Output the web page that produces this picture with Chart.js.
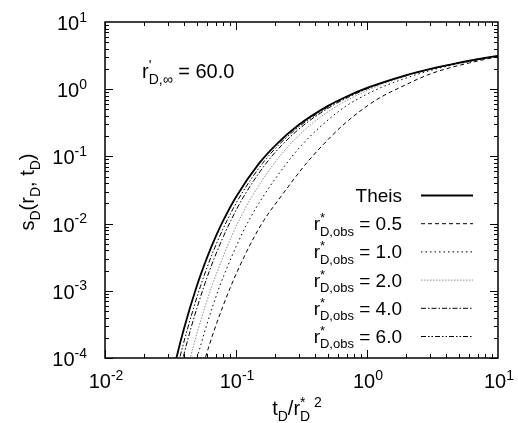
<!DOCTYPE html>
<html>
<head>
<meta charset="utf-8">
<script src="https://cdn.jsdelivr.net/npm/chart.js@4.4.0/dist/chart.umd.min.js"></script>
<style>
  html, body { margin: 0; padding: 0; background: #fff; }
  canvas { display: block; }
</style>
</head>
<body>
<canvas id="c" width="518" height="423"></canvas>
<script>
// drawdown levels shared by every curve (y values)
const sLevels = [2.60e-5, 9.8e-5, 2.70e-4, 1.148e-3, 3.09e-3, 6.38e-3, 1.114e-2, 2.491e-2, 7.86e-2,
                 0.1464, 0.2925, 0.5598, 0.7799, 1.0443, 1.6234, 1.9893, 2.4679, 2.7904, 3.1365];

// time at which each curve reaches the level above (x values)
const tTheis = [0.03, 0.035, 0.04, 0.05, 0.06, 0.07, 0.08, 0.1, 0.15, 0.2, 0.3, 0.5, 0.7, 1, 2, 3, 5, 7, 10];
const tObs05 = [0.0476, 0.0581, 0.0687, 0.0910, 0.1143, 0.138, 0.163, 0.219, 0.344, 0.458, 0.656, 0.998,
                1.303, 1.758, 2.89, 3.95, 6.08, 8.04, 10.72];
const tObs10 = [0.0424, 0.0504, 0.0585, 0.0748, 0.0919, 0.1084, 0.1254, 0.1603, 0.2433, 0.317, 0.454, 0.690,
                0.923, 1.259, 2.322, 3.327, 5.36, 7.33, 10.23];
const tObs20 = [0.0378, 0.0446, 0.0515, 0.0652, 0.0791, 0.0923, 0.1054, 0.1318, 0.1955, 0.255, 0.369, 0.588,
                0.804, 1.109, 2.118, 3.105, 5.115, 7.08, 10];
const tObs40 = [0.0333, 0.0393, 0.0451, 0.0568, 0.0684, 0.0800, 0.0914, 0.1140, 0.1695, 0.2234, 0.329, 0.536,
                0.741, 1.042, 2.046, 3.042, 5.035, 7, 10];
const tObs60 = [0.0316, 0.0371, 0.0426, 0.0534, 0.0641, 0.0748, 0.0855, 0.1067, 0.1593, 0.2108, 0.3135, 0.5165,
                0.718, 1.019, 2.018, 3.015, 5, 7, 10];

const obsLabels = ['0.5', '1.0', '2.0', '4.0', '6.0'];
const xMajor = [0.01, 0.1, 1, 10];
const yMajor = [1e-4, 1e-3, 1e-2, 1e-1, 1, 10];

const FONT = '"Liberation Sans", Arial, sans-serif';

function pts(ts) {
  return ts.map((t, i) => ({ x: t, y: sLevels[i] }));
}

// text with sub/superscripts: parts = [{t}, {sup}, {sub}, {sup, sub}]
function richWidth(ctx, parts, size) {
  const small = Math.round(size * 0.68);
  let w = 0;
  parts.forEach(p => {
    if (p.t !== undefined) {
      ctx.font = size + 'px ' + FONT;
      w += ctx.measureText(p.t).width;
    } else {
      ctx.font = small + 'px ' + FONT;
      w += Math.max(p.sup ? ctx.measureText(p.sup).width : 0, p.sub ? ctx.measureText(p.sub).width : 0);
    }
  });
  return w;
}

function drawRich(ctx, parts, x, y, size, align) {
  const small = Math.round(size * 0.68);
  const total = richWidth(ctx, parts, size);
  let cx = align === 'right' ? x - total : align === 'center' ? x - total / 2 : x;
  ctx.textAlign = 'left';
  ctx.textBaseline = 'alphabetic';
  ctx.fillStyle = '#000';
  parts.forEach(p => {
    if (p.t !== undefined) {
      ctx.font = size + 'px ' + FONT;
      ctx.fillText(p.t, cx, y);
      cx += ctx.measureText(p.t).width;
    } else {
      ctx.font = small + 'px ' + FONT;
      let w = 0;
      if (p.sup) { ctx.fillText(p.sup, cx, y - size * 0.42); w = ctx.measureText(p.sup).width; }
      if (p.sub) { ctx.fillText(p.sub, cx, y + size * 0.28); w = Math.max(w, ctx.measureText(p.sub).width); }
      cx += w;
    }
  });
}

function expLabel(v) {
  return [{ t: '10' }, { sup: String(Math.round(Math.log10(v))) }];
}

const decor = {
  id: 'decor',
  afterDatasetsDraw(chart) {
    const ctx = chart.ctx;
    const a = chart.chartArea;
    const xs = chart.scales.x, ys = chart.scales.y;
    ctx.save();
    ctx.strokeStyle = '#000';
    ctx.lineWidth = 1;

    // ticks on all four sides, pointing inward
    ctx.beginPath();
    for (let e = -2; e < 1; e++) {
      for (let k = 1; k < 10; k++) {
        const v = k * Math.pow(10, e);
        const px = Math.round(xs.getPixelForValue(v)) + 0.5;
        const len = k === 1 ? 8 : 4;
        ctx.moveTo(px, a.bottom); ctx.lineTo(px, a.bottom - len);
        ctx.moveTo(px, a.top); ctx.lineTo(px, a.top + len);
      }
    }
    for (let e = -4; e < 1; e++) {
      for (let k = 1; k < 10; k++) {
        const v = k * Math.pow(10, e);
        const py = Math.round(ys.getPixelForValue(v)) + 0.5;
        const len = k === 1 ? 8 : 4;
        ctx.moveTo(a.left, py); ctx.lineTo(a.left + len, py);
        ctx.moveTo(a.right, py); ctx.lineTo(a.right - len, py);
      }
    }
    ctx.stroke();

    // frame
    ctx.lineWidth = 1.5;
    ctx.strokeRect(a.left, a.top, a.right - a.left, a.bottom - a.top);

    // tick labels
    xMajor.forEach(v => drawRich(ctx, expLabel(v), xs.getPixelForValue(v) + 1, a.bottom + 30, 20, 'center'));
    yMajor.forEach(v => drawRich(ctx, expLabel(v), a.left - 18, ys.getPixelForValue(v) + 8, 20, 'right'));

    // axis titles
    drawRich(ctx, [{ t: 't' }, { sub: 'D' }, { t: '/r' }, { sup: '*', sub: 'D' }, { sup: ' 2' }],
             297, 415, 20, 'center');
    ctx.save();
    ctx.translate(34, (a.top + a.bottom) / 2 + 2);
    ctx.rotate(-Math.PI / 2);
    drawRich(ctx, [{ t: 's' }, { sub: 'D' }, { t: '(r' }, { sub: 'D' }, { t: ', t' }, { sub: 'D' }, { t: ')' }],
             0, 0, 20, 'center');
    ctx.restore();

    // annotation
    drawRich(ctx, [{ t: 'r' }, { sup: "'", sub: 'D,\u221E' }, { t: ' = 60.0' }], 142, 78, 20, 'left');

    // legend
    const ds = chart.data.datasets;
    const texts = [[{ t: 'Theis' }]].concat(obsLabels.map(l =>
      [{ t: 'r' }, { sup: '*', sub: 'D,obs' }, { t: ' = ' + l }]));
    texts.forEach((parts, i) => {
      const by = 202 + 28.2 * i;
      drawRich(ctx, parts, 402, by, 19, 'right');
      const d = ds[i];
      ctx.save();
      ctx.strokeStyle = d.borderColor;
      ctx.lineWidth = d.borderWidth;
      ctx.setLineDash(d.borderDash || []);
      ctx.beginPath();
      ctx.moveTo(421, by - 6.5);
      ctx.lineTo(473, by - 6.5);
      ctx.stroke();
      ctx.restore();
    });
    ctx.restore();
  }
};

function line(label, ts, color, width, dash) {
  return {
    label: label,
    data: pts(ts),
    borderColor: color,
    borderWidth: width,
    borderDash: dash,
    pointRadius: 0,
    fill: false,
    cubicInterpolationMode: 'monotone'
  };
}

new Chart(document.getElementById('c'), {
  type: 'line',
  data: {
    datasets: [
      line('Theis', tTheis, '#000', 1.8, []),
      line('0.5', tObs05, '#000', 1, [4, 3]),
      line('1.0', tObs10, '#000', 1, [1.5, 3]),
      line('2.0', tObs20, '#8a8a8a', 1, [1.5, 1.5]),
      line('4.0', tObs40, '#000', 1, [5, 2, 1.5, 2]),
      line('6.0', tObs60, '#000', 1, [5, 2, 1.5, 2, 1.5, 2])
    ]
  },
  options: {
    responsive: false,
    animation: false,
    layout: { padding: { left: 105, right: 20, top: 22, bottom: 65 } },
    plugins: { legend: { display: false }, tooltip: { enabled: false } },
    scales: {
      x: { type: 'logarithmic', min: 0.01, max: 10, display: false },
      y: { type: 'logarithmic', min: 1e-4, max: 10, display: false }
    }
  },
  plugins: [decor]
});
</script>
</body>
</html>
